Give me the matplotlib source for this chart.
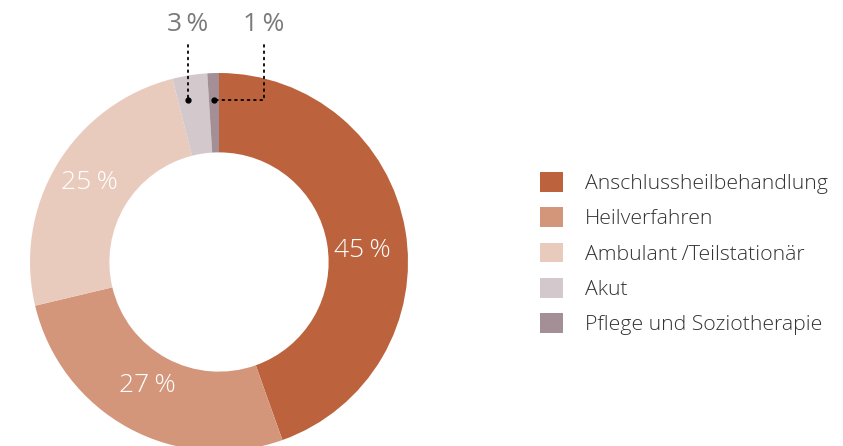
import matplotlib
matplotlib.use("Agg")
import matplotlib.pyplot as plt
from matplotlib.patches import Patch

categories = ["Anschlussheilbehandlung", "Heilverfahren", "Ambulant\u2009/Teilstationär", "Akut", "Pflege und Soziotherapie"]
values = [45, 27, 25, 3, 1]
labels = ["45\u2009%", "27\u2009%", "25\u2009%", "3\u2009%", "1\u2009%"]
colors = ["#BC633E", "#D4967A", "#E9CBBD", "#D3C8CC", "#A38F95"]

plt.rcParams['font.family'] = ['Open Sans', 'DejaVu Sans']

W, H = 843, 446
fig = plt.figure(figsize=(W / 100, H / 100), dpi=100)
cx, cy, R = 219, 262, 189
ax = fig.add_axes([(cx - R) / W, (H - cy - R) / H, 2 * R / W, 2 * R / H])
wedges, _ = ax.pie(values, colors=colors, startangle=90, counterclock=False,
                   radius=1, wedgeprops=dict(width=0.42, linewidth=0))
ax.set_xlim(-1, 1)
ax.set_ylim(-1, 1)
ax.set_aspect('equal')
ax.axis('off')

# inside labels
inside = {0: (0.757, 0.063), 1: (-0.381, -0.651), 2: (-0.683, 0.418)}
for i, (x, y) in inside.items():
    ax.text(x, y, labels[i], color="white", fontsize=19, fontweight='light',
            ha='center', va='center', clip_on=False)

# outside labels with dotted leaders
for i, x in ((3, -0.164), (4, 0.238)):
    ax.text(x, 1.259, labels[i], color="#7a7a7a", fontsize=19, fontweight='normal',
            ha='center', va='center', clip_on=False)
ax.plot([-0.164, -0.164], [1.148, 0.857], ls=(0, (1, 2.5)), color='black', lw=1.3,
        clip_on=False, dash_capstyle='round')
ax.plot([-0.164], [0.857], 'o', color='black', ms=3.5, clip_on=False)
ax.plot([0.238, 0.238, -0.026], [1.148, 0.857, 0.857], ls=(0, (1, 2.5)), color='black',
        lw=1.3, clip_on=False, dash_capstyle='round')
ax.plot([-0.026], [0.857], 'o', color='black', ms=3.5, clip_on=False)

handles = [Patch(facecolor=c, edgecolor='none') for c in colors]
leg = fig.legend(handles, categories, loc='upper left',
                 bbox_to_anchor=(540 / W, 1 - 172 / H), frameon=False,
                 fontsize=15.3, handlelength=1.08, handleheight=1.05,
                 handletextpad=1.03, labelspacing=0.62, borderaxespad=0,
                 borderpad=0)
for t in leg.get_texts():
    t.set_color('#333333')
    t.set_fontweight('light')

fig.savefig("out.png", dpi=100)
